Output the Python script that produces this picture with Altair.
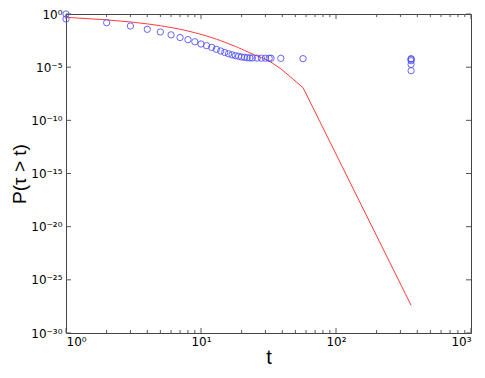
import altair as alt
import pandas as pd

# Blue circles: t and log10 P(tau > t)
circ_t = [1, 1, 2, 3, 4, 5, 6, 7, 8, 9, 10, 11, 12, 13, 14, 15, 16, 17, 18,
          19, 20, 21, 22, 23, 24, 26, 28, 30, 32, 33, 39, 57,
          360, 360, 360, 360, 360]
circ_logp = [0.0, -0.47, -0.82, -1.13, -1.44, -1.69, -1.96, -2.21, -2.41, -2.61,
             -2.82, -2.98, -3.14, -3.32, -3.48, -3.62, -3.74, -3.84, -3.92,
             -3.98, -4.04, -4.08, -4.11, -4.13, -4.14, -4.15, -4.15, -4.16, -4.16, -4.16,
             -4.17, -4.2,
             -4.2, -4.26, -4.39, -4.74, -5.33]

# Red fitted line
line_t = [1, 2, 3, 4, 5, 6, 7, 8, 9, 10, 11, 12, 13, 14, 15, 16, 17, 18, 19,
          20, 21, 22, 25, 28, 29, 32, 33, 39, 57, 360]
line_logp = [-0.31, -0.55, -0.75, -0.93, -1.1, -1.27, -1.43, -1.6, -1.76, -1.92,
             -2.07, -2.22, -2.37, -2.51, -2.65, -2.79, -2.93, -3.05, -3.18,
             -3.3, -3.43, -3.55, -3.85, -4.1, -4.18, -4.45, -4.53, -5.15, -6.93, -27.4]

x_major = [1, 10, 100, 1000]
x_minor = [2, 3, 4, 5, 6, 7, 8, 9, 20, 30, 40, 50, 60, 70, 80, 90,
           200, 300, 400, 500, 600, 700, 800, 900]
y_exps = [0, -5, -10, -15, -20, -25, -30]

W, H = 405, 319
sup = str.maketrans("0123456789-", "⁰¹²³⁴⁵⁶⁷⁸⁹⁻")
LABEL_FONT = "DejaVu Sans"


def label_expr(exps):
    expr = "''"
    for e in exps:
        expr = f"(round(log(datum.value)/LN10) == {e}) ? '10{str(e).translate(sup)}' : ({expr})"
    return expr


circ = pd.DataFrame({"t": circ_t, "p": [10 ** v for v in circ_logp]})
line = pd.DataFrame({"t": line_t, "p": [10 ** v for v in line_logp]})
xmaj = pd.DataFrame({"t": x_major})
xmin = pd.DataFrame({"t": x_minor})
ymaj = pd.DataFrame({"p": [10.0 ** e for e in y_exps]})

xs = alt.Scale(type="log", domain=[1, 1000])
ys = alt.Scale(type="log", domain=[1e-30, 1])

xaxis = alt.Axis(values=x_major, labelExpr=label_expr([0, 1, 2, 3]), ticks=False,
                 domain=False, grid=False, labelFontSize=12, labelPadding=3,
                 title="t", titleFontSize=20, titleFontWeight="normal", titlePadding=0,
                 labelFont=LABEL_FONT, titleFont="Liberation Sans", labelColor="black")
yaxis = alt.Axis(values=[10.0 ** e for e in y_exps], labelExpr=label_expr(y_exps), ticks=False,
                 domain=False, grid=False, labelFontSize=12, labelPadding=4,
                 title="P(τ > t)", titleFontSize=19, titleFontWeight="normal", titlePadding=1,
                 labelFont=LABEL_FONT, titleFont="Liberation Sans", labelColor="black")

tick_col = "#555555"


def xticks(df, length):
    bot = alt.Chart(df).mark_rule(color=tick_col, strokeWidth=1).encode(
        x=alt.X("t:Q", scale=xs, axis=xaxis), y=alt.value(H), y2=alt.value(H - length))
    top = alt.Chart(df).mark_rule(color=tick_col, strokeWidth=1).encode(
        x=alt.X("t:Q", scale=xs), y=alt.value(0), y2=alt.value(length))
    return [bot, top]


yl = alt.Chart(ymaj).mark_rule(color=tick_col, strokeWidth=1).encode(
    y=alt.Y("p:Q", scale=ys, axis=yaxis), x=alt.value(0), x2=alt.value(5))
yr = alt.Chart(ymaj).mark_rule(color=tick_col, strokeWidth=1).encode(
    y=alt.Y("p:Q", scale=ys), x=alt.value(W), x2=alt.value(W - 5))

line_layer = alt.Chart(line).mark_line(color="#ff3b3b", strokeWidth=1).encode(
    x=alt.X("t:Q", scale=xs), y=alt.Y("p:Q", scale=ys))
circ_layer = alt.Chart(circ).mark_point(shape="circle", filled=False, color="#4b4bff",
                                        size=40, strokeWidth=1, opacity=0.85).encode(
    x=alt.X("t:Q", scale=xs), y=alt.Y("p:Q", scale=ys))

chart = alt.layer(
    *xticks(xmaj, 5), *xticks(xmin, 3), yl, yr, line_layer, circ_layer
).properties(
    width=W, height=H,
    autosize=alt.AutoSizeParams(type="none"),
    padding={"left": 58, "top": 6, "right": 6, "bottom": 45},
    background="white",
).configure_view(stroke="#444444", strokeWidth=1)

chart.save("out.html", embed_options={"renderer": "svg", "actions": False})
